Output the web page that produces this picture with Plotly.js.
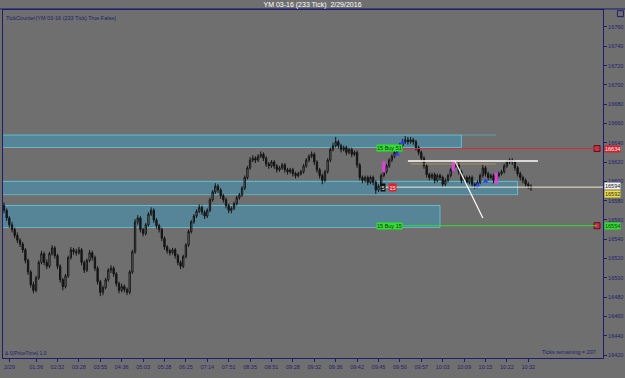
<!DOCTYPE html>
<html><head><meta charset="utf-8">
<script src="https://cdn.plot.ly/plotly-3.0.1.min.js"></script>
<style>html,body{margin:0;padding:0;background:#6f6f6f;}#chart{width:625px;height:378px;}</style>
</head><body><div id="chart"></div>
<script>
// ---- data ----
const barOpen = [
16575,16570,16562,16555,16550,16544,16539,16535,16529,16518,
16506,16493,16487,16500,16516,16525,16516,16512,16525,16531,
16523,16512,16498,16491,16502,16521,16529,16527,16526,16529,
16516,16508,16518,16526,16521,16510,16496,16485,16490,16498,
16508,16510,16504,16494,16487,16491,16488,16485,16506,16527,
16558,16562,16550,16546,16555,16566,16570,16560,16554,16550,
16541,16532,16528,16526,16529,16523,16516,16512,16522,16534,
16548,16558,16564,16569,16573,16568,16564,16570,16581,16589,
16595,16591,16585,16581,16575,16570,16572,16577,16583,16586,
16593,16604,16614,16622,16624,16622,16626,16628,16624,16618,
16616,16620,16616,16612,16614,16617,16612,16610,16612,16608,
16606,16608,16610,16616,16622,16626,16628,16620,16612,16606,
16601,16610,16622,16633,16637,16641,16637,16633,16635,16630,
16633,16628,16630,16617,16604,16601,16604,16599,16604,16599,
16591,16595,16606,16610,16616,16622,16626,16630,16635,16637,
16641,16643,16641,16643,16641,16635,16630,16624,16616,16607,
16604,16607,16601,16606,16604,16597,16601,16606,16612,16616,
16618,16610,16601,16604,16599,16604,16597,16595,16599,16606,
16614,16608,16604,16606,16601,16606,16608,16610,16616,16620,
16622,16620,16614,16608,16604,16601,16597,16595];
const barHigh = [
16578,16572,16564,16558,16552,16547,16541,16537,16531,16520,
16508,16496,16502,16518,16528,16527,16519,16527,16534,16533,
16525,16514,16500,16504,16523,16532,16531,16530,16532,16531,
16518,16520,16529,16528,16523,16512,16498,16492,16500,16510,
16513,16512,16506,16496,16494,16493,16490,16508,16529,16561,
16565,16564,16552,16557,16568,16573,16572,16562,16556,16552,
16543,16534,16530,16531,16531,16525,16518,16524,16536,16550,
16560,16566,16571,16576,16575,16570,16572,16583,16591,16598,
16597,16593,16587,16583,16577,16574,16579,16585,16588,16595,
16606,16616,16625,16627,16626,16628,16631,16630,16626,16620,
16622,16622,16618,16616,16619,16619,16614,16614,16614,16610,
16610,16612,16618,16624,16628,16631,16630,16622,16614,16608,
16612,16624,16635,16640,16646,16643,16639,16637,16637,16635,
16635,16632,16632,16619,16606,16606,16606,16606,16606,16601,
16597,16608,16612,16618,16624,16628,16632,16637,16640,16644,
16647,16646,16646,16645,16643,16637,16632,16626,16618,16609,
16609,16609,16608,16608,16606,16603,16608,16614,16618,16621,
16620,16612,16606,16606,16606,16606,16599,16601,16608,16617,
16616,16610,16608,16608,16608,16610,16612,16618,16622,16624,
16624,16622,16616,16610,16606,16603,16599,16597];
const barLow = [
16567,16559,16552,16547,16541,16536,16532,16526,16515,16503,
16490,16484,16485,16498,16514,16513,16509,16510,16523,16520,
16509,16495,16487,16489,16500,16519,16524,16523,16524,16513,
16505,16506,16516,16518,16507,16493,16481,16482,16488,16496,
16505,16501,16491,16484,16485,16485,16482,16483,16504,16525,
16555,16547,16543,16544,16553,16564,16557,16551,16547,16538,
16529,16525,16523,16524,16520,16513,16509,16510,16520,16532,
16546,16556,16562,16567,16565,16561,16562,16568,16579,16587,
16588,16582,16578,16572,16567,16567,16570,16575,16581,16584,
16591,16602,16612,16620,16619,16620,16624,16621,16615,16613,
16614,16613,16609,16610,16612,16609,16607,16608,16605,16603,
16604,16606,16608,16614,16620,16624,16617,16609,16603,16597,
16599,16608,16620,16631,16635,16634,16630,16631,16627,16628,
16625,16626,16614,16601,16598,16599,16596,16597,16596,16587,
16589,16593,16604,16608,16614,16620,16624,16628,16633,16635,
16639,16638,16639,16638,16632,16627,16621,16613,16604,16601,
16602,16598,16599,16601,16594,16595,16599,16604,16610,16614,
16607,16598,16599,16596,16597,16594,16592,16593,16597,16604,
16605,16601,16602,16598,16599,16604,16606,16608,16614,16618,
16617,16611,16605,16601,16598,16594,16592,16590];
const barClose = [
16570,16562,16555,16550,16544,16539,16535,16529,16518,16506,
16493,16487,16500,16516,16525,16516,16512,16525,16531,16523,
16512,16498,16491,16502,16521,16529,16527,16526,16529,16516,
16508,16518,16526,16521,16510,16496,16485,16490,16498,16508,
16510,16504,16494,16487,16491,16488,16485,16506,16527,16558,
16562,16550,16546,16555,16566,16570,16560,16554,16550,16541,
16532,16528,16526,16529,16523,16516,16512,16522,16534,16548,
16558,16564,16569,16573,16568,16564,16570,16581,16589,16595,
16591,16585,16581,16575,16570,16572,16577,16583,16586,16593,
16604,16614,16622,16624,16622,16626,16628,16624,16618,16616,
16620,16616,16612,16614,16617,16612,16610,16612,16608,16606,
16608,16610,16616,16622,16626,16628,16620,16612,16606,16601,
16610,16622,16633,16637,16641,16637,16633,16635,16630,16633,
16628,16630,16617,16604,16601,16604,16599,16604,16599,16591,
16595,16606,16610,16616,16622,16626,16630,16635,16637,16641,
16643,16641,16643,16641,16635,16630,16624,16616,16607,16604,
16607,16601,16606,16604,16597,16601,16606,16612,16616,16618,
16610,16601,16604,16599,16604,16597,16595,16599,16606,16614,
16608,16604,16606,16601,16606,16608,16610,16616,16620,16622,
16620,16614,16608,16604,16601,16597,16595,16593];

const tickBars = [2,12,20,28,36,44,52,60,68,76,84,92,100,108,116,124,132,140,148,156,164,172,180,188,196];
const tickLabels = ["2/29","01:36","02:52","03:28","03:55","04:36","05:03","05:28","06:25","07:14","07:51","08:35","08:51","09:28","09:32","09:36","09:42","09:45","09:50","09:57","10:03","10:09","10:15","10:22","10:32"];
const priceTicks = [16420,16440,16460,16480,16500,16520,16540,16560,16580,16600,16620,16640,16660,16680,16700,16720,16740,16760];

const zoneLow  = [16635, 16586, 16552];
const zoneHigh = [16648, 16600, 16575];
const zoneEndBar = [171, 192, 163];

const stopPrice = 16634;     // red
const targetPrice = 16554;   // green
const lastPrice = 16594;     // white
const askPrice = 16592;      // yellow
const swingLevel = 16621;    // white line
const diagFromBar = 168.6, diagFromPrice = 16621, diagToBar = 179, diagToPrice = 16562;

const buySigBars = [147, 149, 177, 180];
const buySigPrices = [16628, 16640, 16596, 16600];
const sellSigBars = [142, 168, 184];
const sellSigPrices = [16615, 16616, 16603];

// ---- chart ----
const N = barClose.length;
const xs = Array.from({length: N}, (_, i) => i);
const navy = '#1e1e6e';
const xr = [-0.37, 223.93];

const traces = [{
  type: 'candlestick', x: xs, open: barOpen, high: barHigh, low: barLow, close: barClose,
  increasing: {line: {color: '#151515', width: 1}, fillcolor: '#8a8a8a'},
  decreasing: {line: {color: '#151515', width: 1}, fillcolor: '#151515'},
  whiskerwidth: 0, hoverinfo: 'skip', showlegend: false
}, {
  type: 'scatter', mode: 'markers', x: buySigBars, y: buySigPrices, hoverinfo: 'skip', showlegend: false,
  marker: {symbol: 'triangle-up', size: 5, color: '#2a3cff'}
}, {
  type: 'scatter', mode: 'markers', x: sellSigBars, y: sellSigPrices, hoverinfo: 'skip', showlegend: false,
  marker: {symbol: 'line-ns', size: 8, line: {color: '#e040e0', width: 3}}
}, {
  type: 'scatter', mode: 'markers', x: [221.7, 221.7], y: [stopPrice, targetPrice], hoverinfo: 'skip', showlegend: false,
  marker: {symbol: 'square', size: 6, color: '#c83040', line: {color: '#5a1020', width: 1}}
}];

const shapes = [];
for (let k = 0; k < zoneLow.length; k++) {
  shapes.push({type: 'rect', xref: 'x', yref: 'y', x0: -2, x1: zoneEndBar[k], y0: zoneLow[k], y1: zoneHigh[k],
    fillcolor: 'rgba(50,170,220,0.38)', line: {color: 'rgba(90,205,225,0.85)', width: 1}, layer: 'below'});
  shapes.push({type: 'line', xref: 'x', yref: 'y', x0: -2, x1: zoneEndBar[k], y0: zoneLow[k] - 1, y1: zoneLow[k] - 1,
    line: {color: 'rgba(150,90,80,0.6)', width: 1}, layer: 'below'});
}
shapes.push({type: 'line', xref: 'x', yref: 'y', x0: zoneEndBar[0], x1: 184, y0: zoneHigh[0], y1: zoneHigh[0],
  line: {color: 'rgba(90,190,215,0.6)', width: 1}, layer: 'below'});
shapes.push({type: 'line', xref: 'x', yref: 'y', x0: 147.3, x1: 221.7, y0: stopPrice, y1: stopPrice, line: {color: '#d0303a', width: 1}});
shapes.push({type: 'line', xref: 'x', yref: 'y', x0: 147.3, x1: 221.7, y0: targetPrice, y1: targetPrice, line: {color: '#30e030', width: 1}});
shapes.push({type: 'line', xref: 'x', yref: 'y', x0: 140.6, x1: 223.9, y0: lastPrice, y1: lastPrice, line: {color: '#f0ecd0', width: 1}});
shapes.push({type: 'line', xref: 'x', yref: 'y', x0: 151, x1: 199.6, y0: swingLevel, y1: swingLevel, line: {color: '#ffffff', width: 1.5}});
shapes.push({type: 'line', xref: 'x', yref: 'y', x0: diagFromBar, x1: diagToBar, y0: diagFromPrice, y1: diagToPrice, line: {color: '#ffffff', width: 1.2}});
shapes.push({type: 'line', xref: 'x', yref: 'y', x0: 152, x1: 184, y0: 16618, y1: 16618, line: {color: 'rgba(200,160,90,0.7)', width: 1}});
// top frame line across full width
shapes.push({type: 'line', xref: 'paper', yref: 'paper', x0: -0.005, x1: 1.0367, y0: 1.003, y1: 1.003, line: {color: navy, width: 1}});
// small box icon at top right
shapes.push({type: 'rect', xref: 'paper', yref: 'paper', x0: 1.024, x1: 1.034, y0: 0.981, y1: 0.998, line: {color: navy, width: 1}, fillcolor: 'rgba(0,0,0,0)'});

const anns = [
  {text: 'TickCounter(YM 03-16 (233 Tick) True False)', xref: 'paper', yref: 'paper', x: 0.001, y: 0.99, xanchor: 'left', yanchor: 'top', showarrow: false, font: {size: 5.5, color: navy}},
  {text: 'Ticks remaining = 207', xref: 'paper', yref: 'paper', x: 0.992, y: 0.003, xanchor: 'right', yanchor: 'bottom', showarrow: false, font: {size: 5.5, color: navy}},
  {text: '& 0(PriceTime) 1,0', xref: 'paper', yref: 'paper', x: 0.0, y: 0.0, xanchor: 'left', yanchor: 'bottom', showarrow: false, font: {size: 5, color: navy}},
  {text: String(stopPrice), xref: 'paper', yref: 'y', x: 1, xshift: 1, y: stopPrice, xanchor: 'left', showarrow: false, bgcolor: '#d8202c', borderpad: 0, font: {size: 5.5, color: '#ffffff'}},
  {text: String(lastPrice), xref: 'paper', yref: 'y', x: 1, xshift: 1, y: lastPrice, yshift: 1, xanchor: 'left', showarrow: false, bgcolor: '#f2f2f2', borderpad: 0, font: {size: 5.5, color: '#202020'}},
  {text: String(askPrice), xref: 'paper', yref: 'y', x: 1, xshift: 1, y: askPrice, yshift: -5, xanchor: 'left', showarrow: false, bgcolor: '#f0e040', borderpad: 0, font: {size: 5.5, color: '#202020'}},
  {text: String(targetPrice), xref: 'paper', yref: 'y', x: 1, xshift: 1, y: targetPrice, xanchor: 'left', showarrow: false, bgcolor: '#30e030', borderpad: 0, font: {size: 5.5, color: '#104010'}},
  {text: '15 Buy 51', xref: 'x', yref: 'y', x: 144, y: stopPrice + 1, showarrow: false, bgcolor: '#30e030', borderpad: 0, font: {size: 5.5, color: '#103010'}},
  {text: '15 Buy 15', xref: 'x', yref: 'y', x: 144, y: targetPrice, showarrow: false, bgcolor: '#30e030', borderpad: 0, font: {size: 5.5, color: '#103010'}},
  {text: '5', xref: 'x', yref: 'y', x: 141.8, y: lastPrice, showarrow: false, bgcolor: '#101010', borderpad: 0.5, font: {size: 5.5, color: '#ffffff'}},
  {text: '15', xref: 'x', yref: 'y', x: 145.2, y: lastPrice, showarrow: false, bgcolor: '#e0202c', borderpad: 0.5, font: {size: 5.5, color: '#ffffff'}}
];

const layout = {
  width: 625, height: 378,
  margin: {l: 3, r: 22, t: 10, b: 20, pad: 0},
  paper_bgcolor: '#6f6f6f', plot_bgcolor: '#6f6f6f',
  font: {family: 'Liberation Sans, Arial, sans-serif', color: navy, size: 6},
  title: {text: 'YM 03-16 (233 Tick)  2/29/2016', x: 0.5, xanchor: 'center', y: 0.988, yanchor: 'middle', yref: 'container',
    font: {size: 7, color: '#ffffff'}},
  showlegend: false,
  xaxis: {range: xr, type: 'linear', rangeslider: {visible: false}, showgrid: false, zeroline: false,
    tickmode: 'array', tickvals: tickBars, ticktext: tickLabels, ticks: 'outside', ticklen: 3, tickcolor: navy,
    tickfont: {size: 5.5, color: navy}, showline: true, mirror: true, linecolor: navy, linewidth: 1, fixedrange: true},
  yaxis: {range: [16416.9, 16777.6], side: 'right', showgrid: false, zeroline: false,
    tickmode: 'array', tickvals: priceTicks, ticktext: priceTicks.map(String), ticks: 'outside', ticklen: 3, tickcolor: navy,
    tickfont: {size: 5.5, color: navy}, showline: true, mirror: true, linecolor: navy, linewidth: 1, fixedrange: true},
  shapes: shapes, annotations: anns
};

Plotly.newPlot('chart', traces, layout, {displayModeBar: false, staticPlot: true});
</script></body></html>
